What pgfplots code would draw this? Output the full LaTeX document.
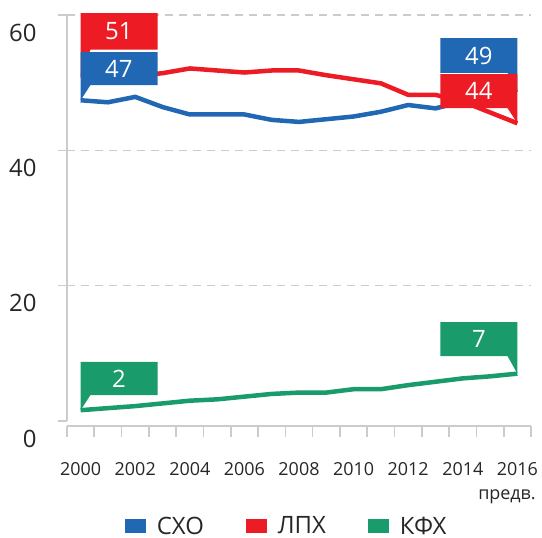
\documentclass[border=0pt]{standalone}
\usepackage{fontspec}
\setmainfont{Open Sans}
\usepackage{pgfplots}
\pgfplotsset{compat=1.18}

\definecolor{cblue}{HTML}{2068B4}
\definecolor{cred}{HTML}{ED1C24}
\definecolor{cgreen}{HTML}{1A9B6C}
\definecolor{axgray}{HTML}{CCCCCC}
\definecolor{txt}{HTML}{262626}

\newcommand{\bigfont}{\fontsize{24}{28}\selectfont}
\newcommand{\smallfont}{\fontsize{18}{21}\selectfont}

% callout with the tail at the left / right bottom corner
% #1 colour, #2 x left, #3 x right, #4 y top, #5 y bottom, #6 y of point, #7 text
\newcommand{\calloutL}[7]{%
  \fill[#1] (#2,#4) -- (#3,#4) -- (#3,#5) -- ({#2+0.36},#5) -- (#2,#6) -- cycle;
  \node[text=white, font=\bigfont, inner sep=0pt] at ({(#2+#3)/2},{(#4+#5)/2}) {#7};
}
\newcommand{\calloutR}[7]{%
  \fill[#1] (#2,#4) -- (#3,#4) -- (#3,#6) -- ({#3-0.36},#5) -- (#2,#5) -- cycle;
  \node[text=white, font=\bigfont, inner sep=0pt] at ({(#2+#3)/2},{(#4+#5)/2}) {#7};
}

\begin{document}
\begin{tikzpicture}
\begin{axis}[
    scale only axis,
    width=464bp, height=406bp,
    xmin=1999.5, xmax=2016.5,
    ymin=0, ymax=60,
    clip=false,
    axis x line*=bottom,
    axis y line*=left,
    axis line style={-, draw=axgray, line width=1.6bp},
    x axis line style={yshift=-5bp},
    xtick={2000,2002,...,2016},
    minor xtick={1999.5,2000.5,...,2016.5},
    major x tick style={draw=none},
    minor tick style={yshift=-5bp, draw=axgray, line width=1.6bp},
    tick align=outside,
    major tick length=9bp,
    minor tick length=11bp,
    tick style={draw=axgray, line width=1.6bp},
    ytick={0,20,40,60},
    extra y ticks={20,40,60},
    extra y tick labels={},
    extra y tick style={grid=major},
    major grid style={draw=axgray, line width=1.5bp, dash pattern=on 8bp off 6bp},
    /pgf/number format/1000 sep={},
    /pgf/number format/assume math mode=true,
    xticklabel style={font=\smallfont, text=txt, yshift=-29bp},
    yticklabel style={font=\bigfont, text=txt, anchor=east, xshift=-18bp, yshift=-17.5bp},
    legend style={at={(0.4735,-0.259)}, anchor=center, draw=none, fill=none,
        font=\bigfont, text=txt, legend columns=3,
        nodes={inner ysep=1bp},
        /tikz/every odd column/.append style={column sep=9bp},
        /tikz/every even column/.append style={column sep=40bp}},
    legend image code/.code={\fill[#1, draw=none] (0bp,-7bp) rectangle (21bp,7bp);},
]

% СХО
\addplot[cblue, line width=4.5bp, line join=round] coordinates {
(2000,47.4) (2001,47.1) (2002,47.9) (2003,46.4) (2004,45.3) (2005,45.3)
(2006,45.3) (2007,44.5) (2008,44.2) (2009,44.6) (2010,45.0) (2011,45.7)
(2012,46.7) (2013,46.2) (2014,47.2) (2015,48.1) (2016,49.0)
};
\addlegendentry{СХО}

% ЛПХ
\addplot[cred, line width=4.5bp, line join=round] coordinates {
(2000,51.0) (2001,51.0) (2002,51.0) (2003,51.4) (2004,52.1) (2005,51.8)
(2006,51.5) (2007,51.8) (2008,51.8) (2009,51.1) (2010,50.5) (2011,49.9)
(2012,48.2) (2013,48.2) (2014,47.2) (2015,45.6) (2016,44.0)
};
\addlegendentry{ЛПХ}

% КФХ
\addplot[cgreen, line width=4.5bp, line join=round] coordinates {
(2000,1.6) (2001,1.9) (2002,2.2) (2003,2.6) (2004,3.0) (2005,3.2)
(2006,3.6) (2007,4.0) (2008,4.2) (2009,4.2) (2010,4.7) (2011,4.7)
(2012,5.3) (2013,5.8) (2014,6.3) (2015,6.6) (2016,7.0)
};
\addlegendentry{КФХ}

\calloutL{cred}{2000}{2002.82}{60.29}{54.9}{51}{51}
\calloutL{cblue}{2000}{2002.82}{54.53}{49.65}{47.4}{47}
\calloutL{cgreen}{2000}{2002.82}{8.72}{3.84}{1.6}{2}
\calloutR{cblue}{2013.18}{2016}{56.6}{51.43}{49}{49}
\calloutR{cred}{2013.18}{2016}{51.28}{46.25}{44}{44}
\calloutR{cgreen}{2013.18}{2016}{14.63}{9.6}{7}{7}

\node[anchor=base east, font=\smallfont, text=txt, inner sep=0pt] at (2016.68,-11.67) {предв.};

\coordinate (bl) at (1999.5,0);
\end{axis}
\pgfresetboundingbox
\useasboundingbox (bl) ++(-67bp,-117bp) rectangle ++(542bp,538bp);
\end{tikzpicture}
\end{document}
